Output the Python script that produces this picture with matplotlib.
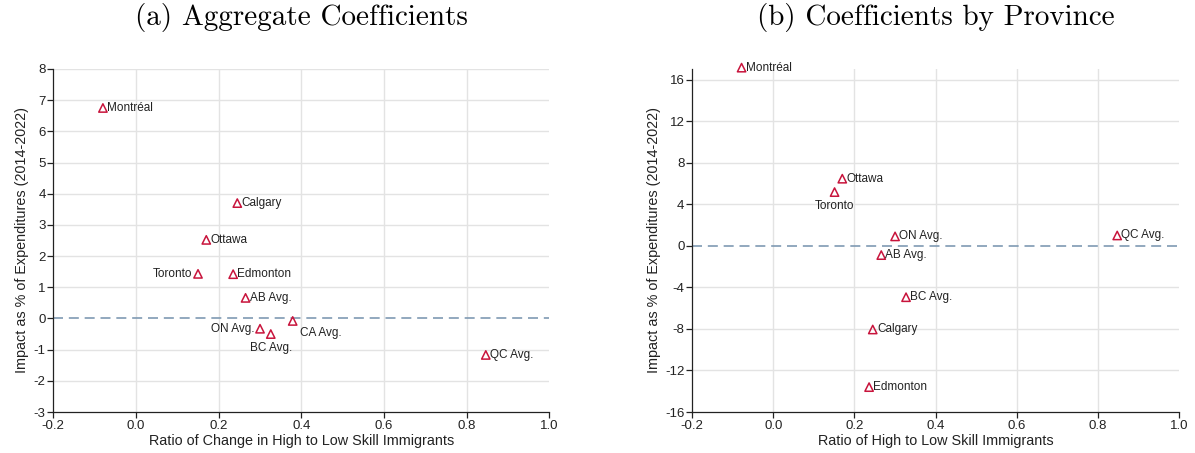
import matplotlib
matplotlib.use("Agg")
import matplotlib.pyplot as plt

# Panel (a): aggregate coefficients
names_a = ["Montréal", "Calgary", "Ottawa", "Toronto", "Edmonton", "AB Avg.",
           "CA Avg.", "ON Avg.", "BC Avg.", "QC Avg."]
x_a = [-0.08, 0.245, 0.170, 0.150, 0.235, 0.265, 0.379, 0.300, 0.326, 0.846]
y_a = [6.75, 3.70, 2.52, 1.43, 1.42, 0.66, -0.08, -0.33, -0.50, -1.17]
pos_a = ["E", "E", "E", "W", "E", "E", "SE", "W", "S", "E"]

# Panel (b): coefficients by province
names_b = ["Montréal", "Ottawa", "Toronto", "ON Avg.", "QC Avg.", "AB Avg.",
           "BC Avg.", "Calgary", "Edmonton"]
x_b = [-0.078, 0.170, 0.151, 0.300, 0.847, 0.266, 0.327, 0.245, 0.236]
y_b = [17.18, 6.48, 5.19, 0.92, 1.01, -0.88, -4.94, -8.05, -13.6]
pos_b = ["E", "E", "S", "E", "E", "E", "E", "E", "E"]

xticks = [-0.2, 0.0, 0.2, 0.4, 0.6, 0.8, 1.0]
yticks_a = [-3, -2, -1, 0, 1, 2, 3, 4, 5, 6, 7, 8]
yticks_b = [-16, -12, -8, -4, 0, 4, 8, 12, 16]

RED = "#c8143c"
GRID = "#e3e3e3"
DASH = "#7f9ab3"
FONT = ["Liberation Sans", "DejaVu Sans"]
plt.rcParams["font.family"] = FONT

fig = plt.figure(figsize=(11.95, 4.53), dpi=100)
ax1 = fig.add_axes([0.0446, 0.0905, 0.4152, 0.7572])
ax2 = fig.add_axes([0.5791, 0.0905, 0.4078, 0.7572])

offsets = {"E": (3, 0, "left", "center"),
           "W": (-4, 0, "right", "center"),
           "S": (0, -6, "center", "top"),
           "SE": (5, -4, "left", "top")}

def draw(ax, xs, ys, names, pos, yticks, ylim, xlabel):
    ax.set_xlim(-0.2, 1.0)
    ax.set_ylim(*ylim)
    for v in xticks[1:-1]:
        ax.axvline(v, color=GRID, lw=1.0, zorder=0)
    for v in yticks[1:]:
        if v != 0 and v <= ylim[1]:
            ax.axhline(v, color=GRID, lw=1.0, zorder=0)
    ax.axhline(0, color=DASH, lw=1.2, ls=(0, (6, 3.5)), zorder=1)
    ax.scatter(xs, ys, marker="^", s=36, facecolors="none", edgecolors=RED,
               linewidths=1.1, zorder=3, clip_on=False)
    for x, y, n, p in zip(xs, ys, names, pos):
        dx, dy, ha, va = offsets[p]
        ax.annotate(n, (x, y), xytext=(dx, dy), textcoords="offset points",
                    ha=ha, va=va, fontsize=8.5, color="#222222",
                    annotation_clip=False)
    ax.set_xticks(xticks)
    ax.set_xticklabels([f"{v:.1f}" for v in xticks])
    ax.set_yticks(yticks)
    ax.set_yticklabels([str(v) for v in yticks])
    ax.tick_params(labelsize=9.5, length=4, width=0.9, colors="#222222",
                   direction="out", pad=1.5)
    for s in ["top", "right"]:
        ax.spines[s].set_visible(False)
    for s in ["left", "bottom"]:
        ax.spines[s].set_color("#222222")
        ax.spines[s].set_linewidth(0.9)
    ax.set_xlabel(xlabel, fontsize=10.4, labelpad=1.5, color="#222222")
    ax.set_ylabel("Impact as % of Expenditures (2014-2022)", fontsize=10.4,
                  labelpad=3, color="#222222")

draw(ax1, x_a, y_a, names_a, pos_a, yticks_a, (-3, 8),
     "Ratio of Change in High to Low Skill Immigrants")
draw(ax2, x_b, y_b, names_b, pos_b, yticks_b, (-16, 17.05),
     "Ratio of High to Low Skill Immigrants")

fig.text(0.2522, 1 - 17 / 453, "(a) Aggregate Coefficients", ha="center",
         va="center", fontsize=21, family="cmr10")
fig.text(0.7830, 1 - 17 / 453, "(b) Coefficients by Province", ha="center",
         va="center", fontsize=21, family="cmr10")

fig.savefig("out.png", dpi=100, facecolor="white")
